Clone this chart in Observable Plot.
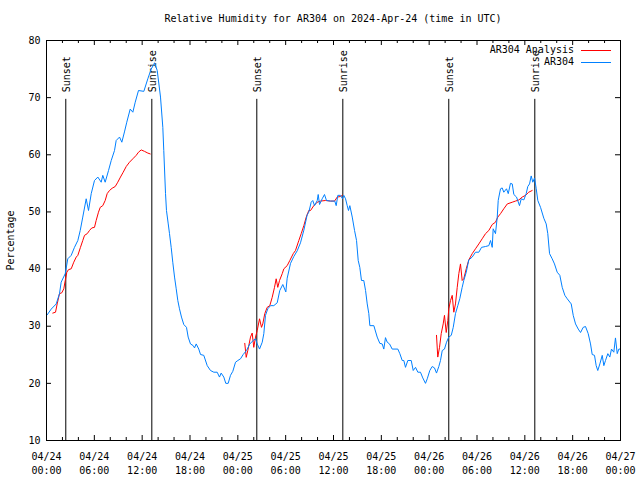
<!DOCTYPE html>
<html><head><meta charset="utf-8">
<script src="https://cdn.jsdelivr.net/npm/d3@7"></script>
<script src="https://cdn.jsdelivr.net/npm/@observablehq/plot@0.6"></script>
<style>
body{margin:0;background:#fff;}
#wrap{position:relative;width:640px;height:480px;font-family:"DejaVu Sans Mono",monospace;font-size:10px;color:#000;}
#title{position:absolute;top:13px;left:46px;width:574px;text-align:center;white-space:pre;line-height:12px;}
#legend{position:absolute;top:44px;right:29px;display:grid;grid-template-columns:auto 30px;column-gap:7px;line-height:12px;}
#legend .t{text-align:right;white-space:pre;}
#legend svg{display:block;margin-top:5px;}
#plot{position:absolute;top:0;left:0;}
</style></head>
<body>
<div id="wrap">
<div id="plot"></div>
<div id="title">Relative Humidity for AR304 on 2024-Apr-24 (time in UTC)</div>
<div id="legend"></div>
</div>
<script>
const titleText = "Relative Humidity for AR304 on 2024-Apr-24 (time in UTC)";
const startDay = "2024-04-24T00:00:00Z";
const spanHours = 72;
const yTicks = [10,20,30,40,50,60,70,80];

// AR304 observations (hours since 2024-04-24 00:00 UTC, %)
const blueHours = [0.09,0.59,1.22,1.63,1.84,2.35,2.67,3.10,3.51,3.93,
4.23,4.55,4.98,5.27,5.61,6.02,6.44,6.86,7.06,7.36,
7.78,8.12,8.53,8.74,9.16,9.45,9.78,10.07,10.50,10.83,
11.13,11.54,12.21,12.71,13.13,13.46,13.55,13.89,14.30,14.59,
14.71,14.93,15.05,15.27,15.43,15.64,15.84,16.06,16.27,16.47,
16.68,16.93,17.22,17.56,17.77,18.06,18.40,18.57,18.78,19.10,
19.32,19.73,20.16,20.57,20.99,21.41,21.70,21.91,22.24,22.49,
22.79,23.08,23.37,23.71,24.00,24.34,24.67,25.09,25.50,25.93,
26.22,26.43,26.72,27.06,27.26,27.47,27.76,28.10,28.51,28.94,
29.26,29.64,30.02,30.19,30.61,31.02,31.45,31.86,32.28,32.70,
32.90,33.20,33.40,33.62,33.96,34.08,34.25,34.58,34.87,35.12,
35.63,36.16,36.34,36.54,36.88,37.13,37.29,37.51,37.72,37.88,
38.05,38.35,38.64,38.89,39.10,39.30,39.51,39.80,40.02,40.23,
40.43,40.56,41.06,41.48,41.81,42.11,42.31,42.52,42.74,43.03,
43.36,44.07,44.32,44.62,44.82,45.03,45.32,45.75,46.00,46.29,
46.58,46.91,47.20,47.54,47.76,48.08,48.38,48.67,48.92,49.21,
49.42,49.64,49.92,50.18,50.46,50.77,51.02,51.30,51.59,51.84,
52.14,52.34,52.65,52.97,53.40,53.81,54.23,54.57,55.07,55.48,
55.70,55.91,56.03,56.32,56.54,56.66,56.74,56.95,57.16,57.36,
57.70,57.92,58.20,58.42,58.62,58.96,59.33,59.55,59.87,60.17,
60.37,60.59,60.80,61.00,61.22,61.43,61.63,61.97,62.38,62.68,
62.88,63.10,63.43,63.72,64.06,64.39,64.69,65.02,65.32,65.82,
66.07,66.36,66.70,66.99,67.32,67.61,67.95,68.24,68.45,68.74,
68.95,69.15,69.41,69.71,69.91,70.12,70.41,70.66,70.87,71.16,
71.37,71.59,71.79,71.91];
const blueValues = [32.0,33.0,33.9,35.7,37.7,39.2,41.8,42.4,43.8,45.0,
46.75,49.1,52.3,50.25,53.2,55.5,56.1,55.2,56.4,55.2,
57.25,59.0,60.75,62.5,63.1,62.2,64.0,65.7,68.0,67.45,
69.2,71.25,71.1,73.3,75.0,75.8,76.1,74.75,70.1,64.8,
60.75,53.2,50.25,47.9,46.2,43.8,41.2,38.6,36.55,34.5,
33.05,31.6,30.3,29.8,28.1,26.9,26.6,26.2,26.9,26.0,
25.05,24.9,23.1,22.25,21.95,21.95,21.1,21.8,21.1,20.0,
20.0,21.4,22.1,23.7,24.0,24.3,25.05,25.75,26.9,27.5,
27.8,26.9,26.0,27.2,28.7,31.9,33.05,33.6,33.6,34.1,
36.25,37.3,36.0,38.4,41.0,42.2,43.2,44.6,46.8,49.5,
49.95,51.7,52.0,51.1,52.0,53.05,51.3,52.3,53.05,52.0,
51.9,51.9,51.1,52.9,52.9,52.3,52.9,52.3,51.1,50.25,
51.1,49.1,46.75,45.0,41.5,40.3,38.0,38.0,36.25,33.9,
32.2,30.1,30.1,28.1,27.0,26.9,26.0,28.0,27.2,26.9,
26.0,26.0,25.2,24.0,24.0,22.8,24.0,24.0,22.25,22.8,
21.95,21.95,20.95,20.0,20.8,22.25,22.95,22.7,21.8,22.95,
24.0,25.75,26.0,27.2,28.1,28.4,29.8,32.2,33.6,34.8,
36.8,38.0,39.45,41.6,42.1,42.95,42.95,43.8,43.95,44.1,
45.0,43.8,47.05,46.2,49.1,52.0,52.6,54.05,54.2,53.45,
54.05,53.2,55.0,54.9,53.05,52.6,51.1,52.3,52.1,53.2,
54.45,54.9,56.3,55.2,55.95,54.05,52.0,50.8,48.9,47.9,
46.2,42.7,41.8,40.9,39.45,38.9,36.8,35.4,34.8,33.9,
31.9,30.4,29.5,28.9,29.8,29.95,28.7,26.9,25.05,24.9,
23.1,22.25,23.4,24.9,23.1,24.0,25.2,24.6,26.0,25.45,
27.95,25.2,26.0,26.0];

// AR304 Analysis runs
const redHours1 = [0.79,1.13,1.34,1.63,1.92,2.17,2.35,2.55,2.76,3.10,3.42,3.73,3.93,4.26,4.55,4.77,5.11,5.39,5.68,6.02,6.23,6.52,6.74,7.06,7.36,7.61,7.90,8.24,8.62,8.94,9.28,9.62,10.00,10.41,10.83,11.25,11.54,11.88,12.29,12.71,13.01];
const redValues1 = [32.3,32.45,33.9,35.7,35.85,36.55,38.0,39.45,39.9,40.05,41.2,42.1,42.4,43.8,45.0,45.9,46.2,46.75,47.2,47.3,48.5,49.95,50.8,51.1,52.0,53.2,53.75,54.15,54.45,55.2,56.1,56.95,57.95,58.7,59.3,59.9,60.45,60.85,60.6,60.3,60.15];
const redHours2 = [24.87,25.05,25.25,25.59,25.80,26.00,26.22,26.43,26.72,26.97,27.13,27.38,27.68,28.01,28.31,28.60,28.81,29.01,29.23,29.57,29.77,30.19,30.52,30.95,31.23,31.65,31.95,32.28,32.58,32.90,33.12,33.53,33.96,34.37,35.00,35.63,36.13,36.47,36.88,37.09];
const redValues2 = [27.0,24.55,25.75,28.1,28.8,26.3,28.1,29.25,31.3,29.8,30.4,32.2,33.3,33.6,35.05,36.8,38.3,36.8,38.0,39.2,40.05,40.6,41.5,42.7,43.25,45.0,46.2,47.6,49.1,50.25,50.25,51.1,51.7,51.9,52.0,51.9,51.9,52.6,52.7,52.9];
const redHours3 = [48.92,49.08,49.30,49.51,49.76,49.92,50.14,50.34,50.46,50.68,50.89,51.09,51.30,51.52,51.72,51.93,52.14,52.34,52.65,52.97,53.40,53.81,54.23,54.65,55.07,55.48,55.91,56.32,56.61,56.95,57.36,57.80,58.42,58.83,59.25,59.67,60.09,60.49,60.92];
const redValues3 = [28.4,24.6,26.3,28.7,30.4,31.9,28.9,31.0,33.05,34.5,35.4,32.45,33.9,36.8,39.2,40.9,38.0,38.3,40.05,41.6,42.7,43.55,44.4,45.3,46.2,46.75,47.8,48.2,49.1,49.7,50.55,51.4,51.7,51.9,52.1,52.6,52.9,53.45,53.75];

const sunHours = [2.42, 13.21, 26.38, 37.17, 50.46, 61.25];
const sunLabels = ["Sunset","Sunrise","Sunset","Sunrise","Sunset","Sunrise"];
const sunLineTop = 69.7;

const seriesNames = ["AR304 Analysis","AR304"];
const seriesColors = ["#ff0000","#0080ff"];

const t0 = new Date(startDay).getTime();
const toDate = h => new Date(t0 + h*3600e3);

const blue = blueHours.map((h,i)=>({t:toDate(h), v:blueValues[i]}));
const red = [];
[[redHours1,redValues1],[redHours2,redValues2],[redHours3,redValues3]].forEach(([hs,vs],k)=>{
  hs.forEach((h,i)=>red.push({t:toDate(h), v:vs[i], run:k}));
});
const majorTicks = d3.range(0, spanHours+1, 6).map(toDate);
const minorTicks = d3.range(0, spanHours+1, 2).filter(h=>h%6!==0).map(toDate);
const sun = sunHours.map((h,i)=>({t:toDate(h), label:sunLabels[i]}));

const W = 640, H = 480, mL = 46, mR = 20, mT = 40, mB = 40;
const fw = W-mL-mR, fh = H-mT-mB;

const chart = Plot.plot({
  width: W, height: H,
  marginLeft: mL, marginRight: mR, marginTop: mT, marginBottom: mB,
  style: {fontFamily: "'DejaVu Sans Mono', monospace", fontSize: "10px", background: "white", color: "black", overflow: "visible"},
  x: {type: "utc", domain: [toDate(0), toDate(spanHours)]},
  y: {domain: [10, 80]},
  marks: [
    Plot.axisY(yTicks, {tickSize: 0, tickPadding: 6, fontSize: 10, label: "Percentage", labelAnchor: "center", labelArrow: "none", labelOffset: 40}),
    Plot.axisX(majorTicks, {tickSize: 0, tickPadding: 10, fontSize: 10, lineHeight: 1.4, tickFormat: d3.utcFormat("%m/%d\n%H:%M"), label: null}),
    Plot.ruleX(sun, {x: "t", y1: 10, y2: sunLineTop, stroke: "black", strokeWidth: 1}),
    Plot.text(sun, {x: "t", y: sunLineTop, text: "label", rotate: -90, textAnchor: "start", dy: -7, dx: 1, fontSize: 10, fill: "black"}),
    Plot.line(red, {x: "t", y: "v", z: "run", stroke: seriesColors[0], strokeWidth: 1}),
    Plot.line(blue, {x: "t", y: "v", stroke: seriesColors[1], strokeWidth: 1}),
    Plot.tickX(majorTicks, {x: d=>d, insetTop: fh-5, stroke: "black"}),
    Plot.tickX(majorTicks, {x: d=>d, insetBottom: fh-5, stroke: "black"}),
    Plot.tickX(minorTicks, {x: d=>d, insetTop: fh-3, stroke: "black"}),
    Plot.tickX(minorTicks, {x: d=>d, insetBottom: fh-3, stroke: "black"}),
    Plot.tickY(yTicks, {y: d=>d, insetRight: fw-5, stroke: "black"}),
    Plot.tickY(yTicks, {y: d=>d, insetLeft: fw-5, stroke: "black"}),
    Plot.frame({stroke: "black", strokeWidth: 1})
  ]
});
document.getElementById("plot").appendChild(chart);
document.getElementById("title").textContent = titleText;

const leg = document.getElementById("legend");
seriesNames.forEach((n,i)=>{
  const t = document.createElement("div"); t.className = "t"; t.textContent = n; leg.appendChild(t);
  const s = document.createElementNS("http://www.w3.org/2000/svg","svg");
  s.setAttribute("width","30"); s.setAttribute("height","3");
  const l = document.createElementNS("http://www.w3.org/2000/svg","line");
  l.setAttribute("x1","0"); l.setAttribute("x2","30"); l.setAttribute("y1","1.5"); l.setAttribute("y2","1.5");
  l.setAttribute("stroke", seriesColors[i]); l.setAttribute("stroke-width","1");
  s.appendChild(l); leg.appendChild(s);
});
</script>
</body></html>
